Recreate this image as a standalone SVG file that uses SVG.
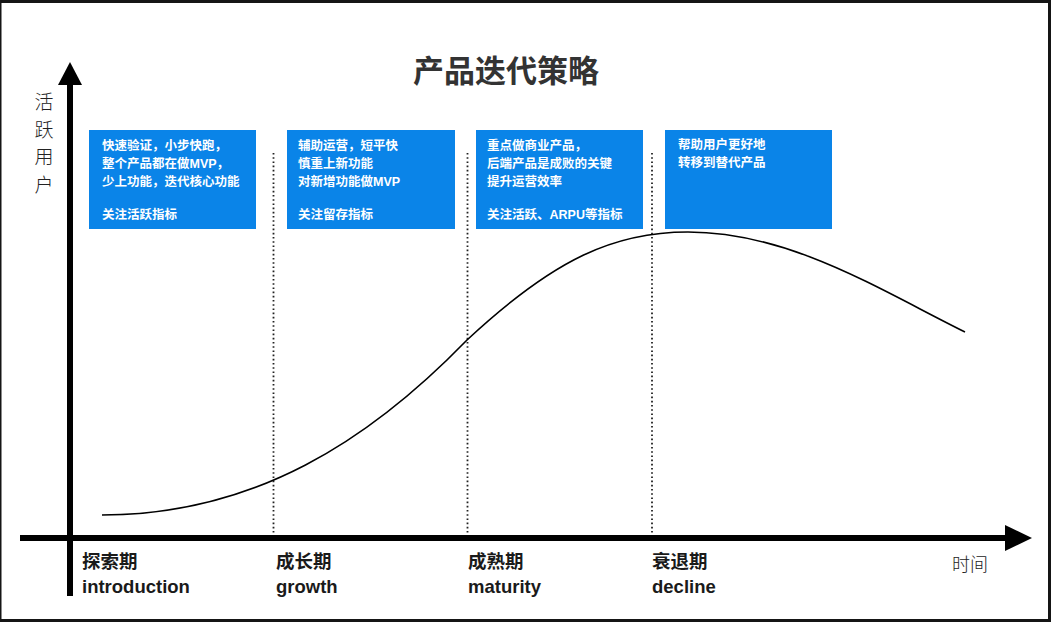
<svg xmlns="http://www.w3.org/2000/svg" width="1051" height="622" viewBox="0 0 1051 622">
  <style>
    .frame { fill: #151515; }
    .title { font-family: "Liberation Sans", "Noto Sans CJK SC", sans-serif; font-size: 31px; font-weight: bold; fill: #333333; text-anchor: middle; }
    .ylab { font-family: "Noto Sans CJK SC", sans-serif; font-size: 19px; font-weight: 300; fill: #222222; text-anchor: middle; }
    .box { fill: #0a84e8; }
    .boxtxt { font-family: "Liberation Sans", "Noto Sans CJK SC", sans-serif; font-size: 12.5px; font-weight: bold; fill: #ffffff; }
    .phase { font-family: "Liberation Sans", "Noto Sans CJK SC", sans-serif; font-size: 18.5px; font-weight: bold; fill: #1a1a1a; }
    .time { font-family: "Noto Sans CJK SC", sans-serif; font-size: 18px; font-weight: 300; fill: #222222; }
    .dot { stroke: #222222; stroke-width: 1.8; stroke-dasharray: 1.6 2.6; fill: none; }
    .axis { stroke: #000000; stroke-width: 6; fill: none; }
    .curve { stroke: #000000; stroke-width: 1.6; fill: none; }
  </style>
  <rect x="0" y="0" width="1051" height="622" fill="#ffffff"/>
  <g id="frame">
    <rect class="frame" x="0" y="0" width="1051" height="3"/>
    <rect class="frame" x="0" y="619" width="1051" height="3"/>
    <rect class="frame" x="0" y="0" width="1.5" height="622"/>
    <rect class="frame" x="1048" y="0" width="3" height="622"/>
  </g>
  <text id="title" class="title" x="506" y="82">产品迭代策略</text>
  <g id="y-label">
    <text class="ylab" x="44" y="109">活</text>
    <text class="ylab" x="44" y="136.5">跃</text>
    <text class="ylab" x="44" y="164">用</text>
    <text class="ylab" x="44" y="191.5">户</text>
  </g>
  <g id="connectors">
    <line class="dot" x1="273.5" y1="153" x2="273.5" y2="535"/>
    <line class="dot" x1="467.5" y1="153" x2="467.5" y2="535"/>
    <line class="dot" x1="652" y1="153" x2="652" y2="535"/>
    <path class="curve" d="M102,515 C255,515 370,440 467,340 C555,258 615,232 688,232 C790,232 880,290 965,332"/>
    <line class="axis" x1="70" y1="80" x2="70" y2="596"/>
    <polygon points="70,62 82,85 58,85" fill="#000000"/>
    <line class="axis" x1="20" y1="538" x2="1010" y2="538"/>
    <polygon points="1032,538 1005,525 1005,551" fill="#000000"/>
  </g>
  <g id="box-introduction">
    <rect class="box" x="89" y="130" width="167" height="99"/>
    <text class="boxtxt" x="102" y="149.5">快速验证，小步快跑，</text>
    <text class="boxtxt" x="102" y="168">整个产品都在做MVP，</text>
    <text class="boxtxt" x="102" y="186">少上功能，迭代核心功能</text>
    <text class="boxtxt" x="102" y="218.5">关注活跃指标</text>
  </g>
  <g id="box-growth">
    <rect class="box" x="287" y="130" width="168" height="99"/>
    <text class="boxtxt" x="298" y="149.5">辅助运营，短平快</text>
    <text class="boxtxt" x="298" y="168">慎重上新功能</text>
    <text class="boxtxt" x="298" y="186">对新增功能做MVP</text>
    <text class="boxtxt" x="298" y="218.5">关注留存指标</text>
  </g>
  <g id="box-maturity">
    <rect class="box" x="476" y="130" width="167" height="99"/>
    <text class="boxtxt" x="487" y="149.5">重点做商业产品，</text>
    <text class="boxtxt" x="487" y="168">后端产品是成败的关键</text>
    <text class="boxtxt" x="487" y="186">提升运营效率</text>
    <text class="boxtxt" x="487" y="218.5">关注活跃、ARPU等指标</text>
  </g>
  <g id="box-decline">
    <rect class="box" x="665" y="130" width="167" height="99"/>
    <text class="boxtxt" x="678" y="148.5">帮助用户更好地</text>
    <text class="boxtxt" x="678" y="167">转移到替代产品</text>
  </g>
  <g id="phase-introduction">
    <text class="phase" x="82" y="568">探索期</text>
    <text class="phase" x="82" y="593">introduction</text>
  </g>
  <g id="phase-growth">
    <text class="phase" x="276" y="568">成长期</text>
    <text class="phase" x="276" y="593">growth</text>
  </g>
  <g id="phase-maturity">
    <text class="phase" x="468" y="568">成熟期</text>
    <text class="phase" x="468" y="593">maturity</text>
  </g>
  <g id="phase-decline">
    <text class="phase" x="652" y="568">衰退期</text>
    <text class="phase" x="652" y="593">decline</text>
  </g>
  <text id="x-label" class="time" x="952" y="571">时间</text>
</svg>
